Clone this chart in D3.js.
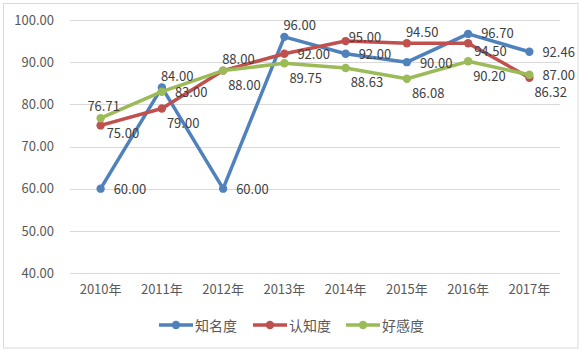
<!DOCTYPE html>
<html>
<head>
<meta charset="utf-8">
<script src="https://cdn.jsdelivr.net/npm/d3@7/dist/d3.min.js"></script>
<style>
  html, body { margin: 0; padding: 0; background: #fff; }
  svg { display: block; }
  text { font-family: "Noto Sans CJK SC", "Noto Sans", sans-serif; }
</style>
</head>
<body>
<svg id="chart" width="583" height="357"></svg>
<script>
// ---- data ----
const categories = ["2010年", "2011年", "2012年", "2013年", "2014年", "2015年", "2016年", "2017年"];
const seriesNames = ["知名度", "认知度", "好感度"];
const awareness   = [60.00, 84.00, 60.00, 96.00, 92.00, 90.00, 96.70, 92.46];
const recognition = [75.00, 79.00, 88.00, 92.00, 95.00, 94.50, 94.50, 86.32];
const favorability = [76.71, 83.00, 88.00, 89.75, 88.63, 86.08, 90.20, 87.00];
const yTicks = [40, 50, 60, 70, 80, 90, 100];
// label placement keywords (r = right, ru = right slightly up, a = above, b = below,
// rb/ra = right-below / right-above, ac = above centred)
const awarenessLabelPos    = ["r", "a", "r", "a", "r", "r", "ru", "r"];
const recognitionLabelPos  = ["rb", "b", "a", "r", "ra", "a", "rb", "b"];
const favorabilityLabelPos = ["ac", "r", "b", "b", "b", "b", "b", "r"];

const colors = ["#4F81BD", "#C0504D", "#9BBB59"];
const seriesValues = [awareness, recognition, favorability];
const seriesLabelPos = [awarenessLabelPos, recognitionLabelPos, favorabilityLabelPos];

const svg = d3.select("#chart");

// outer frame
svg.append("rect").attr("x", 3.5).attr("y", 3.5).attr("width", 574.5).attr("height", 344.5)
  .attr("fill", "#fff").attr("stroke", "#D9D9D9").attr("stroke-width", 1);

const x = d3.scaleBand().domain(categories).range([70, 560]);
const y = d3.scaleLinear().domain([40, 100]).range([273, 20]);

// gridlines
svg.append("g").selectAll("line").data(yTicks).join("line")
  .attr("x1", 70).attr("x2", 560)
  .attr("y1", d => Math.round(y(d)) + 0.5).attr("y2", d => Math.round(y(d)) + 0.5)
  .attr("stroke", "#D9D9D9").attr("stroke-width", 1);

// y axis labels
const yAxis = d3.axisLeft(y).tickValues(yTicks).tickSize(0).tickPadding(0)
  .tickFormat(d => d3.format(".2f")(d));
const gy = svg.append("g").attr("transform", "translate(54,0)").call(yAxis);
gy.select(".domain").remove();
gy.selectAll("text").attr("fill", "#595959").style("font-size", "13px")
  .style("font-family", "'Noto Sans CJK SC', sans-serif");

// x axis labels
const xAxis = d3.axisBottom(x).tickSize(0).tickPadding(0);
const gx = svg.append("g").attr("transform", "translate(0,285)").call(xAxis);
gx.select(".domain").remove();
gx.selectAll("text").attr("fill", "#595959").style("font-size", "13px")
  .style("font-family", "'Noto Sans CJK SC', sans-serif");

const cx = d => x(d) + x.bandwidth() / 2;

// lines and markers
const line = d3.line().x((d, i) => cx(categories[i])).y(d => y(d));
seriesValues.forEach((vals, s) => {
  const g = svg.append("g");
  g.append("path").datum(vals).attr("d", line)
    .attr("fill", "none").attr("stroke", colors[s]).attr("stroke-width", 3.5)
    .attr("stroke-linejoin", "round").attr("stroke-linecap", "round");
  g.selectAll("circle").data(vals).join("circle")
    .attr("cx", (d, i) => cx(categories[i])).attr("cy", d => y(d)).attr("r", 4.2)
    .attr("fill", colors[s]);
});

// data labels
const offsets = {
  r:  { dx: 13, dy: 0,   anchor: "start" },
  ru: { dx: 13, dy: -1,  anchor: "start" },
  a:  { dx: -1, dy: -12, anchor: "start" },
  ac: { dx: 3,  dy: -13, anchor: "middle" },
  b:  { dx: 5,  dy: 14,  anchor: "start" },
  rb: { dx: 6,  dy: 7,   anchor: "start" },
  ra: { dx: 3,  dy: -5,  anchor: "start" }
};
seriesValues.forEach((vals, s) => {
  svg.append("g").selectAll("text").data(vals).join("text")
    .attr("x", (d, i) => cx(categories[i]) + offsets[seriesLabelPos[s][i]].dx)
    .attr("y", (d, i) => y(d) + offsets[seriesLabelPos[s][i]].dy)
    .attr("text-anchor", (d, i) => offsets[seriesLabelPos[s][i]].anchor)
    .attr("dominant-baseline", "central")
    .attr("fill", "#404040").style("font-size", "13px")
    .text(d => d3.format(".2f")(d));
});

// legend
const legendX = [159, 253, 346];
const legendY = 325;
seriesNames.forEach((name, s) => {
  const g = svg.append("g").attr("transform", `translate(${legendX[s]},${legendY})`);
  g.append("line").attr("x1", 0).attr("x2", 34).attr("y1", 0).attr("y2", 0)
    .attr("stroke", colors[s]).attr("stroke-width", 3.5);
  g.append("circle").attr("cx", 17).attr("cy", 0).attr("r", 4.2).attr("fill", colors[s]);
  g.append("text").attr("x", 36).attr("y", 0).attr("dominant-baseline", "central")
    .attr("fill", "#595959").style("font-size", "14px").text(name);
});
</script>
</body>
</html>
